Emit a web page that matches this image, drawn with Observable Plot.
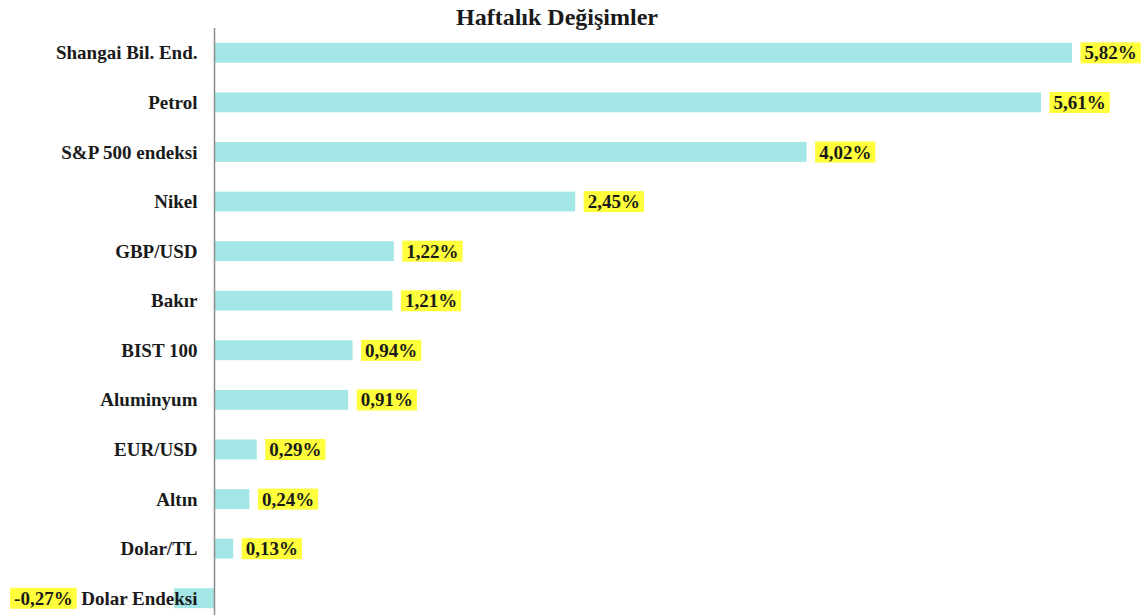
<!DOCTYPE html>
<html><head><meta charset="utf-8">
<script src="https://cdn.jsdelivr.net/npm/d3@7"></script>
<script src="https://cdn.jsdelivr.net/npm/@observablehq/plot@0.6"></script>
<style>
html,body{margin:0;padding:0;background:#fff;overflow:hidden;}
#wrap{position:relative;width:1141px;height:615px;overflow:hidden;}
#title{position:absolute;left:0;top:4px;width:1114px;text-align:center;font:bold 24px "Liberation Serif",serif;color:#1a1a1a;z-index:2;}
#chart{position:absolute;left:0;top:0;}
</style></head><body><div id="wrap"><div id="title">Haftalık Değişimler</div><div id="chart"></div></div>
<script>
const categories = ["Shangai Bil. End.", "Petrol", "S&P 500 endeksi", "Nikel", "GBP/USD", "Bakır", "BIST 100", "Aluminyum", "EUR/USD", "Altın", "Dolar/TL", "Dolar Endeksi"];
const values = [5.82, 5.61, 4.02, 2.45, 1.22, 1.21, 0.94, 0.91, 0.29, 0.24, 0.13, -0.27];
const valueLabels = ["5,82%", "5,61%", "4,02%", "2,45%", "1,22%", "1,21%", "0,94%", "0,91%", "0,29%", "0,24%", "0,13%", "-0,27%"];
const data = categories.map((c, i) => ({name: c, value: values[i], label: valueLabels[i]}));

const chart = Plot.plot({
  width: 1141, height: 623,
  marginLeft: 214, marginTop: 28, marginBottom: 0, marginRight: 0,
  style: {fontFamily: "'Liberation Serif', 'Times New Roman', serif", fontSize: "19px", color: "#1a1a1a", background: "transparent", overflow: "visible"},
  x: {domain: [0, 5.82], range: [214, 1072], axis: null},
  y: {domain: categories, range: [28, 623], paddingInner: 0.6, paddingOuter: 0.3, round: false, axis: null},
  marks: [
    Plot.barX(data, {x: "value", y: "name", fill: "#a2e6e6"}),
    Plot.ruleX([0], {stroke: "#8c8c8c", strokeWidth: 1.5}),
    Plot.axisY({tickSize: 0, tickPadding: 17, fontSize: 19, fontWeight: "bold", fill: "#1a1a1a", label: null}),
    Plot.text(data.filter(d => d.value >= 0), {x: "value", y: "name", text: "label", textAnchor: "start", dx: 12, fontWeight: "bold", fontSize: 19, fill: "#1a1a1a"}),
    Plot.text(data.filter(d => d.value < 0), {x: "value", y: "name", text: "label", textAnchor: "end", dx: -102, fontWeight: "bold", fontSize: 19, fill: "#1a1a1a"})
  ]
});
document.getElementById("chart").appendChild(chart);

// yellow highlight boxes behind the value labels
const labelSet = new Set(valueLabels);
Array.from(chart.querySelectorAll("text")).filter(t => labelSet.has(t.textContent.trim())).forEach(t => {
  const bb = t.getBBox();
  const r = document.createElementNS("http://www.w3.org/2000/svg", "rect");
  r.setAttribute("x", bb.x - 4);
  r.setAttribute("y", bb.y);
  r.setAttribute("width", bb.width + 8);
  r.setAttribute("height", bb.height);
  r.setAttribute("fill", "#ffff3c");
  r.setAttribute("stroke", "none");
  const tr = t.getAttribute("transform");
  if (tr) r.setAttribute("transform", tr);
  t.parentNode.insertBefore(r, t);
});
</script></body></html>
